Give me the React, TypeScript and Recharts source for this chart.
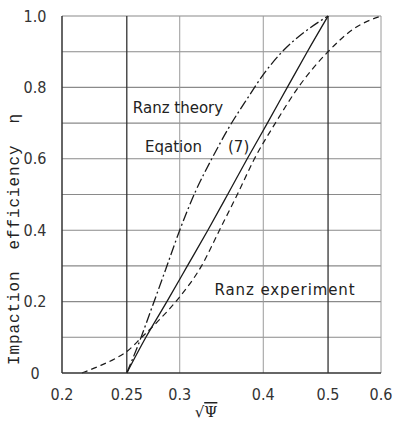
import React from 'react';
import { LineChart, Line, XAxis, YAxis, ReferenceLine } from 'recharts';

// Axis ticks
const xTicks = [0.2, 0.25, 0.3, 0.4, 0.5, 0.6];
const yTicks = [0, 0.2, 0.4, 0.6, 0.8, 1.0];
// Grid lines
const gridXLight = [0.3, 0.4, 0.6];
const gridXDark = [0.25, 0.5];
const gridY = [0.1, 0.2, 0.3, 0.4, 0.5, 0.6, 0.7, 0.8, 0.9, 1.0];

// Ranz theory (dash-dot)
const theoryX = [0.25, 0.2614, 0.2734, 0.2858, 0.3, 0.317, 0.335, 0.356, 0.379, 0.4015, 0.427, 0.461, 0.5];
const theoryY = [0, 0.09, 0.19, 0.29, 0.4, 0.51, 0.6, 0.69, 0.77, 0.84, 0.9, 0.955, 1.0];

// Equation (7) (solid)
const eqX = [0.25, 0.267, 0.287, 0.308, 0.3305, 0.3538, 0.3785, 0.4057, 0.4345, 0.4655, 0.5];
const eqY = [0, 0.1, 0.2, 0.3, 0.4, 0.5, 0.6, 0.7, 0.8, 0.9, 1.0];

// Ranz experiment (dashed)
const expX = [0.2142, 0.2278, 0.24, 0.25, 0.2632, 0.28, 0.299, 0.3234, 0.344, 0.3658, 0.388, 0.417, 0.4512, 0.5, 0.547, 0.6];
const expY = [0, 0.02, 0.04, 0.06, 0.1, 0.15, 0.21, 0.3, 0.4, 0.5, 0.6, 0.7, 0.8, 0.9, 0.965, 1.0];

const toPoints = (xs: number[], ys: number[]) => xs.map((x, i) => ({ x, y: ys[i] }));
const theory = toPoints(theoryX, theoryY);
const equation = toPoints(eqX, eqY);
const experiment = toPoints(expX, expY);

const tickFont = '"DejaVu Sans Condensed", "Liberation Sans Narrow", "DejaVu Sans", sans-serif';
const handFont = '"DejaVu Sans", sans-serif';
const monoFont = '"Liberation Mono", "DejaVu Sans Mono", monospace';

const YTick = (props: any) => {
  const { x, y, payload } = props;
  const v = payload.value;
  return (
    <text x={x - 19} y={y} textAnchor="middle" dominantBaseline="central" fontFamily={tickFont} fontSize={16} fill="#333">
      {v === 0 ? '0' : v.toFixed(1)}
    </text>
  );
};

const XTick = (props: any) => {
  const { x, y, payload } = props;
  return (
    <text x={x} y={y + 13} textAnchor="middle" dominantBaseline="central" fontFamily={tickFont} fontSize={16} fill="#333">
      {String(payload.value)}
    </text>
  );
};

export default function App() {
  return (
    <div style={{ position: 'absolute', left: 0, top: 0, width: 394, height: 421, background: '#fff' }}>
      <LineChart width={394} height={421} data={experiment} margin={{ top: 16, right: 13, bottom: 0, left: 0 }}>
        <XAxis
          dataKey="x"
          type="number"
          scale="log"
          domain={[0.2, 0.6]}
          ticks={xTicks}
          allowDataOverflow
          height={48}
          tickLine={false}
          axisLine={{ stroke: '#333', strokeWidth: 1.5 }}
          tick={<XTick />}
          interval={0}
        />
        <YAxis
          type="number"
          domain={[0, 1]}
          ticks={yTicks}
          width={62}
          tickLine={false}
          axisLine={{ stroke: '#333', strokeWidth: 1.5 }}
          tick={<YTick />}
          interval={0}
        />
        {gridY.map((v) => (
          <ReferenceLine key={'gy' + v} y={v} stroke="#8a8a8a" strokeWidth={1.1} />
        ))}
        {gridXLight.map((v) => (
          <ReferenceLine key={'gxl' + v} x={v} stroke="#9a9a9a" strokeWidth={1} />
        ))}
        {gridXDark.map((v) => (
          <ReferenceLine key={'gxd' + v} x={v} stroke="#333" strokeWidth={1.3} />
        ))}
        <Line data={theory} dataKey="y" type="monotone" stroke="#1a1a1a" strokeWidth={1.3} strokeDasharray="10 3 2 3" dot={false} activeDot={false} isAnimationActive={false} />
        <Line data={equation} dataKey="y" type="monotone" stroke="#1a1a1a" strokeWidth={1.3} dot={false} activeDot={false} isAnimationActive={false} />
        <Line data={experiment} dataKey="y" type="monotone" stroke="#1a1a1a" strokeWidth={1.2} strokeDasharray="6 4" dot={false} activeDot={false} isAnimationActive={false} />
      </LineChart>
      <svg width={394} height={421} style={{ position: 'absolute', left: 0, top: 0, pointerEvents: 'none' }}>
        <text x={178} y={108} textAnchor="middle" dominantBaseline="central" fontFamily={handFont} fontSize={15} fill="#222">Ranz theory</text>
        <text x={145} y={147} textAnchor="start" dominantBaseline="central" fontFamily={handFont} fontSize={15} fill="#222">Eqation</text>
        <text x={228} y={147} textAnchor="start" dominantBaseline="central" fontFamily={handFont} fontSize={15} fill="#222">(7)</text>
        <text x={285} y={290} textAnchor="middle" dominantBaseline="central" fontFamily={handFont} fontSize={15} letterSpacing={0.9} fill="#222">Ranz experiment</text>
        <text
          x={15}
          y={239}
          transform="rotate(-90 15 239)"
          textAnchor="middle"
          dominantBaseline="central"
          fontFamily={monoFont}
          fontSize={16}
          letterSpacing={0.9}
          fill="#222"
          style={{ whiteSpace: 'pre' }}
        >
          {'Impaction  efficiency  η'}
        </text>
        <text x={206} y={412} textAnchor="middle" dominantBaseline="central" fontFamily="DejaVu Serif, serif" fontSize={15} fill="#222">
          √<tspan textDecoration="overline">Ψ</tspan>
        </text>
      </svg>
    </div>
  );
}
